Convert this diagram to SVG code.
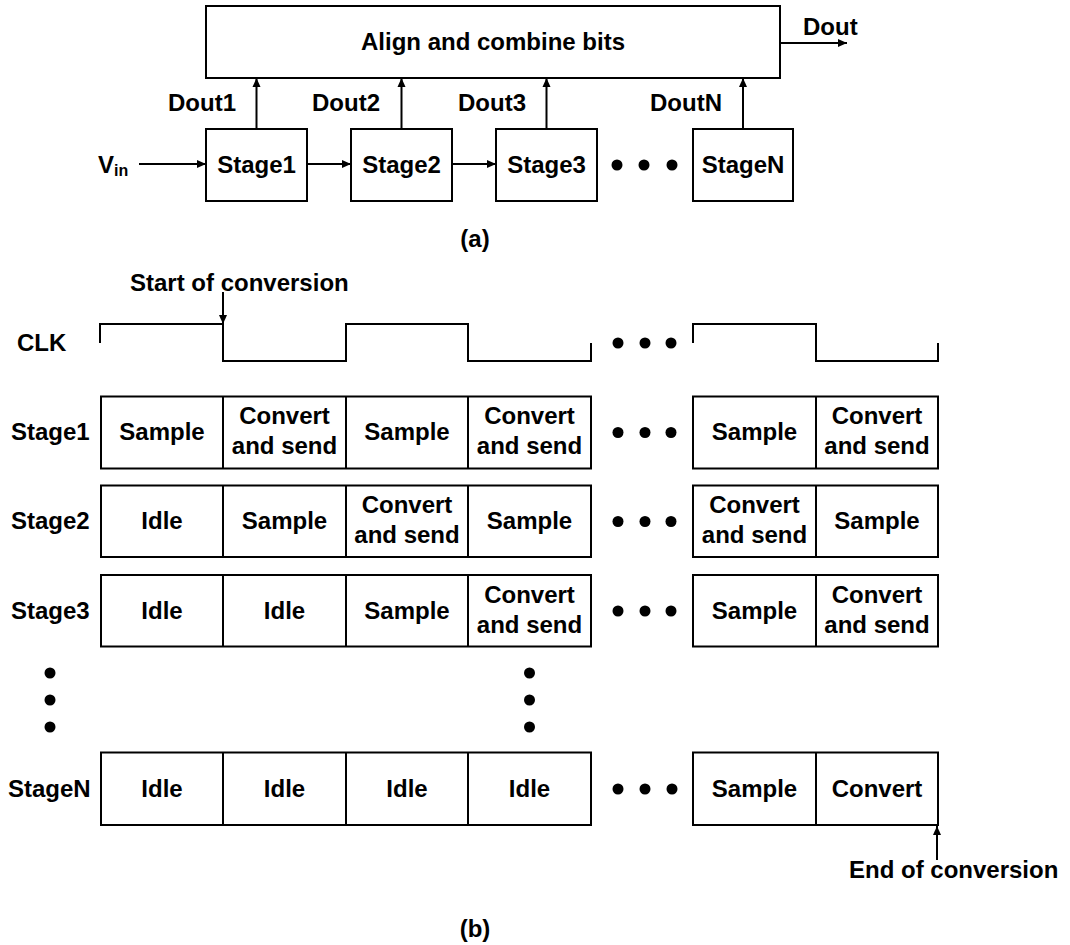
<svg xmlns="http://www.w3.org/2000/svg" width="1070" height="945" viewBox="0 0 1070 945">
<defs>
<style>
text{font-family:"Liberation Sans",Arial,sans-serif;font-weight:bold;font-size:24px;fill:#000}
.c{text-anchor:middle}
.box{fill:#fff;stroke:#000;stroke-width:2}
.ln{fill:none;stroke:#000;stroke-width:2}
.dot{fill:#000}
</style>
<marker id="ah" markerWidth="10" markerHeight="10" refX="9" refY="5" orient="auto" markerUnits="userSpaceOnUse">
<path d="M0,1 L9,5 L0,9 Z" fill="#000"/>
</marker>
</defs>
<rect width="1070" height="945" fill="#fff"/>

<!-- Part (a) -->
<g id="align"><rect class="box" x="206" y="6" width="574" height="72"/><text class="c" x="493" y="50">Align and combine bits</text></g>
<g id="stage1"><rect class="box" x="206" y="129" width="101" height="72"/><text class="c" x="256.5" y="173">Stage1</text></g>
<g id="stage2"><rect class="box" x="351" y="129" width="101" height="72"/><text class="c" x="401.5" y="173">Stage2</text></g>
<g id="stage3"><rect class="box" x="496" y="129" width="101" height="72"/><text class="c" x="546.5" y="173">Stage3</text></g>
<g id="stageN"><rect class="box" x="693" y="129" width="100" height="72"/><text class="c" x="743" y="173">StageN</text></g>
<g id="vin"><text x="98" y="173">V<tspan font-size="16" dy="3">in</tspan></text></g>
<g id="dots-a"><circle class="dot" cx="617" cy="165" r="5.5"/><circle class="dot" cx="644" cy="165" r="5.5"/><circle class="dot" cx="672" cy="165" r="5.5"/></g>
<g id="labels-a">
<text x="168" y="111">Dout1</text>
<text x="312" y="111">Dout2</text>
<text x="458" y="111">Dout3</text>
<text x="650" y="111">DoutN</text>
<text x="803" y="35">Dout</text>
<text class="c" x="475" y="247">(a)</text>
</g>
<g id="connectors">
<line class="ln" x1="139" y1="164" x2="206" y2="164" marker-end="url(#ah)"/>
<line class="ln" x1="307" y1="164" x2="351" y2="164" marker-end="url(#ah)"/>
<line class="ln" x1="452" y1="164" x2="496" y2="164" marker-end="url(#ah)"/>
<line class="ln" x1="256.5" y1="129" x2="256.5" y2="78" marker-end="url(#ah)"/>
<line class="ln" x1="401.5" y1="129" x2="401.5" y2="78" marker-end="url(#ah)"/>
<line class="ln" x1="546.5" y1="129" x2="546.5" y2="78" marker-end="url(#ah)"/>
<line class="ln" x1="743" y1="129" x2="743" y2="78" marker-end="url(#ah)"/>
<line class="ln" x1="780" y1="43" x2="847" y2="43" marker-end="url(#ah)"/>
<line class="ln" x1="223" y1="292" x2="223" y2="324" marker-end="url(#ah)"/>
<line class="ln" x1="937" y1="860" x2="937" y2="826" marker-end="url(#ah)"/>
</g>

<!-- Part (b) -->
<g id="clk">
<text x="17" y="351">CLK</text>
<path class="ln" d="M100,343 V324 H223 V361 H346 V324 H468 V361 H591 V343"/>
<path class="ln" d="M693,343 V324 H816 V361 H938 V343"/>
<circle class="dot" cx="618" cy="343" r="5.5"/><circle class="dot" cx="645" cy="343" r="5.5"/><circle class="dot" cx="671" cy="343" r="5.5"/>
</g>
<text x="130" y="291">Start of conversion</text>
<text x="849" y="878">End of conversion</text>

<g id="row1">
<text x="11" y="440">Stage1</text>
<path class="box" d="M101,396.5 H591 V468.5 H101 Z M223,396.5 V468.5 M346,396.5 V468.5 M468,396.5 V468.5"/>
<path class="box" d="M693,396.5 H938 V468.5 H693 Z M816,396.5 V468.5"/>
<text class="c" x="162" y="440">Sample</text>
<text class="c" x="284.5" y="424">Convert</text><text class="c" x="284.5" y="454">and send</text>
<text class="c" x="407" y="440">Sample</text>
<text class="c" x="529.5" y="424">Convert</text><text class="c" x="529.5" y="454">and send</text>
<text class="c" x="754.5" y="440">Sample</text>
<text class="c" x="877" y="424">Convert</text><text class="c" x="877" y="454">and send</text>
<circle class="dot" cx="618" cy="432.5" r="5.5"/><circle class="dot" cx="645" cy="432.5" r="5.5"/><circle class="dot" cx="671" cy="432.5" r="5.5"/>
</g>

<g id="row2">
<text x="11" y="529">Stage2</text>
<path class="box" d="M101,485.5 H591 V557 H101 Z M223,485.5 V557 M346,485.5 V557 M468,485.5 V557"/>
<path class="box" d="M693,485.5 H938 V557 H693 Z M816,485.5 V557"/>
<text class="c" x="162" y="529">Idle</text>
<text class="c" x="284.5" y="529">Sample</text>
<text class="c" x="407" y="513">Convert</text><text class="c" x="407" y="543">and send</text>
<text class="c" x="529.5" y="529">Sample</text>
<text class="c" x="754.5" y="513">Convert</text><text class="c" x="754.5" y="543">and send</text>
<text class="c" x="877" y="529">Sample</text>
<circle class="dot" cx="618" cy="521.5" r="5.5"/><circle class="dot" cx="645" cy="521.5" r="5.5"/><circle class="dot" cx="671" cy="521.5" r="5.5"/>
</g>

<g id="row3">
<text x="11" y="619">Stage3</text>
<path class="box" d="M101,575 H591 V646.5 H101 Z M223,575 V646.5 M346,575 V646.5 M468,575 V646.5"/>
<path class="box" d="M693,575 H938 V646.5 H693 Z M816,575 V646.5"/>
<text class="c" x="162" y="619">Idle</text>
<text class="c" x="284.5" y="619">Idle</text>
<text class="c" x="407" y="619">Sample</text>
<text class="c" x="529.5" y="603">Convert</text><text class="c" x="529.5" y="633">and send</text>
<text class="c" x="754.5" y="619">Sample</text>
<text class="c" x="877" y="603">Convert</text><text class="c" x="877" y="633">and send</text>
<circle class="dot" cx="618" cy="611" r="5.5"/><circle class="dot" cx="645" cy="611" r="5.5"/><circle class="dot" cx="671" cy="611" r="5.5"/>
</g>

<g id="vdots">
<circle class="dot" cx="50" cy="673" r="5.5"/><circle class="dot" cx="50" cy="700" r="5.5"/><circle class="dot" cx="50" cy="727" r="5.5"/>
<circle class="dot" cx="529.5" cy="673" r="5.5"/><circle class="dot" cx="529.5" cy="700" r="5.5"/><circle class="dot" cx="529.5" cy="727" r="5.5"/>
</g>

<g id="rowN">
<text x="8" y="797">StageN</text>
<path class="box" d="M101,752.5 H591 V825 H101 Z M223,752.5 V825 M346,752.5 V825 M468,752.5 V825"/>
<path class="box" d="M693,752.5 H938 V825 H693 Z M816,752.5 V825"/>
<text class="c" x="162" y="797">Idle</text>
<text class="c" x="284.5" y="797">Idle</text>
<text class="c" x="407" y="797">Idle</text>
<text class="c" x="529.5" y="797">Idle</text>
<text class="c" x="754.5" y="797">Sample</text>
<text class="c" x="877" y="797">Convert</text>
<circle class="dot" cx="618" cy="789" r="5.5"/><circle class="dot" cx="645" cy="789" r="5.5"/><circle class="dot" cx="672" cy="789" r="5.5"/>
</g>

<text class="c" x="475" y="937">(b)</text>
</svg>
